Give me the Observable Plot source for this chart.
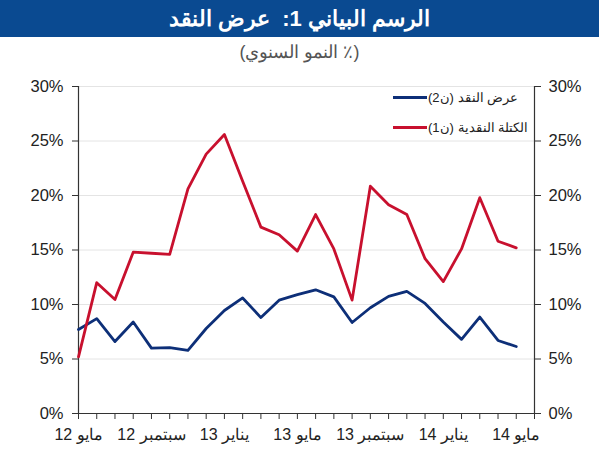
<!DOCTYPE html>
<html>
<head>
<meta charset="utf-8">
<script src="https://cdn.jsdelivr.net/npm/d3@7"></script>
<script src="https://cdn.jsdelivr.net/npm/@observablehq/plot@0.6"></script>
<style>
  html, body { margin: 0; padding: 0; background: #fff; }
  body { width: 599px; height: 450px; position: relative; overflow: hidden; font-family: "Liberation Sans", Arial, sans-serif; }
  #title { position: absolute; left: 0; top: 0; width: 599px; height: 37px; background: #0a4a91; color: #fff;
           font-weight: bold; font-size: 22px; line-height: 37px; text-align: center; direction: rtl; white-space: pre; }
  #subtitle { position: absolute; left: 0; top: 40px; width: 599px; text-align: center; color: #555;
              font-size: 18px; line-height: 24px; direction: rtl; }
  #chart { position: absolute; left: 0; top: 66px; }
  #legend { position: absolute; left: 393px; top: 87px; font-size: 13px; color: #222; }
  .entry { display: flex; align-items: center; height: 20px; margin-bottom: 10px; }
  .swatch { width: 34px; height: 0; border-top: 3px solid; margin-right: 1px; }
  .label { direction: rtl; white-space: nowrap; }
</style>
</head>
<body>
<div id="title">الرسم البياني 1:  عرض النقد</div>
<div id="subtitle">(٪ النمو السنوي)</div>
<div id="chart"></div>
<div id="legend"></div>
<script>
// Monthly observations, May 2012 to May 2014
const months = [
  "2012-05", "2012-06", "2012-07", "2012-08", "2012-09", "2012-10", "2012-11", "2012-12",
  "2013-01", "2013-02", "2013-03", "2013-04", "2013-05", "2013-06", "2013-07", "2013-08",
  "2013-09", "2013-10", "2013-11", "2013-12", "2014-01", "2014-02", "2014-03", "2014-04",
  "2014-05"
];
// Money supply M2, annual growth (%)
const m2 = [7.7, 8.7, 6.6, 8.4, 6.0, 6.05, 5.8, 7.8, 9.45, 10.6, 8.8, 10.4, 10.9,
            11.35, 10.7, 8.35, 9.7, 10.75, 11.2, 10.1, 8.4, 6.8, 8.85, 6.7, 6.15];
// Money mass M1, annual growth (%)
const m1 = [5.2, 12.0, 10.45, 14.8, 14.7, 14.6, 20.6, 23.8, 25.6, 21.3, 17.1, 16.4, 14.9,
            18.25, 15.1, 10.4, 20.85, 19.15, 18.25, 14.2, 12.1, 15.1, 19.8, 15.8, 15.2];
// Labels under every fourth month
const tickLabels = ["12 مايو", "12 سبتمبر", "13 يناير", "13 مايو", "13 سبتمبر", "14 يناير", "14 مايو"];
const yTicks = [0, 5, 10, 15, 20, 25, 30];

const seriesNames = ["عرض النقد (ن2)", "الكتلة النقدية (ن1)"];
const seriesColors = ["#0d2f78", "#c8102e"];

const rowsM2 = months.map((m, i) => ({i, month: m, value: m2[i]}));
const rowsM1 = months.map((m, i) => ({i, month: m, value: m1[i]}));

const axisColor = "#333";
const pct = d => `${d}%`;

const chart = Plot.plot({
  width: 599,
  height: 384,
  marginTop: 20,
  marginBottom: 37,
  marginLeft: 78,
  marginRight: 65,
  style: {fontFamily: "'Liberation Sans', Arial, sans-serif", fontSize: "16px", color: "#222", background: "transparent"},
  x: {type: "linear", domain: [0, months.length], axis: null},
  y: {domain: [0, 30], axis: null},
  marks: [
    Plot.gridY(yTicks.slice(1), {stroke: "#e4e4e4", strokeOpacity: 1}),
    Plot.axisY(yTicks, {anchor: "left", tickFormat: pct, tickSize: 6, tickPadding: 9, stroke: axisColor, fontSize: 16.5, label: null}),
    Plot.axisY(yTicks, {anchor: "right", tickFormat: pct, tickSize: 6, tickPadding: 8, stroke: axisColor, fontSize: 16.5, label: null}),
    Plot.axisX(d3.range(0, months.length + 1), {
      anchor: "bottom", tickSize: 6, tickPadding: 9, stroke: axisColor, fontSize: 16, label: null,
      tickFormat: i => (i % 4 === 0 && i / 4 < tickLabels.length) ? tickLabels[i / 4] : ""
    }),
    Plot.ruleX([0, months.length], {stroke: axisColor, strokeWidth: 1.2}),
    Plot.ruleY([0], {stroke: axisColor, strokeWidth: 1.2}),
    Plot.line(rowsM2, {x: "i", y: "value", stroke: seriesColors[0], strokeWidth: 2.8}),
    Plot.line(rowsM1, {x: "i", y: "value", stroke: seriesColors[1], strokeWidth: 2.8})
  ]
});
document.getElementById("chart").append(chart);

// Legend entries
const legend = document.getElementById("legend");
seriesNames.forEach((name, k) => {
  const row = document.createElement("div");
  row.className = "entry";
  const sw = document.createElement("span");
  sw.className = "swatch";
  sw.style.borderColor = seriesColors[k];
  const lb = document.createElement("span");
  lb.className = "label";
  lb.textContent = name;
  row.append(sw, lb);
  legend.append(row);
});
</script>
</body>
</html>
